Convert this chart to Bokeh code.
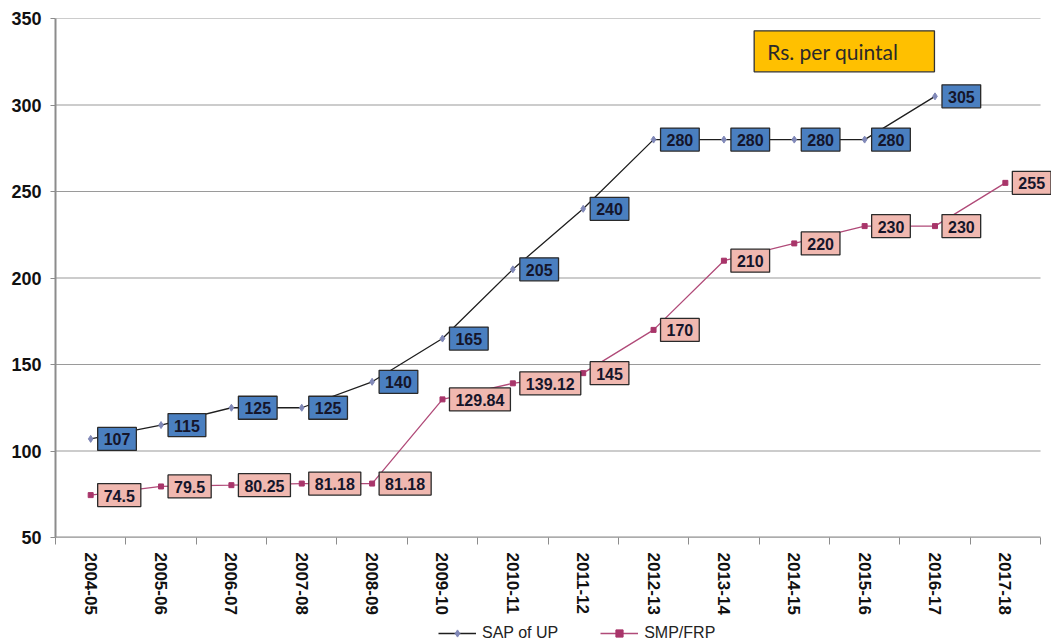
import math
from bokeh.plotting import figure
from bokeh.layouts import column
from bokeh.models import (ColumnDataSource, Label, FixedTicker,
                          Legend, LegendItem, Range1d)
from bokeh.embed import file_html
from bokeh.resources import INLINE

# Sugarcane prices, Rs. per quintal
seasons = ["2004-05", "2005-06", "2006-07", "2007-08", "2008-09", "2009-10",
           "2010-11", "2011-12", "2012-13", "2013-14", "2014-15", "2015-16",
           "2016-17", "2017-18"]
sap_up = [107, 115, 125, 125, 140, 165, 205, 240, 280, 280, 280, 280, 305]
smp_frp = [74.5, 79.5, 80.25, 81.18, 81.18, 129.84, 139.12, 145, 170, 210,
           220, 230, 230, 255]
y_ticks = [50, 100, 150, 200, 250, 300, 350]

n = len(seasons)
centers = [i + 0.5 for i in range(n)]

sap_src = ColumnDataSource(dict(x=centers[:len(sap_up)], y=sap_up))
smp_src = ColumnDataSource(dict(x=centers[:len(smp_frp)], y=smp_frp))

SAP_LINE = dict(line_color="#1e1e1e", line_width=1.3)
SAP_MARK = dict(marker="diamond", size=7, fill_color="#8088b8", line_color="#8088b8")
SMP_LINE = dict(line_color="#b04a78", line_width=1.3)
SMP_MARK = dict(marker="square", size=5, fill_color="#a8356a", line_color="#a8356a")

# the frame runs to the right edge so the last value box is not cut;
# grid and baseline are drawn only over the category span
p = figure(width=1051, height=620, output_backend="svg", toolbar_location=None,
           x_range=Range1d(0, 14.156), y_range=Range1d(50, 350),
           min_border_left=55, min_border_right=0, min_border_top=18,
           min_border_bottom=83)
p.outline_line_color = None
p.background_fill_color = "white"
p.border_fill_color = "white"

# y axis
p.yaxis.ticker = FixedTicker(ticks=y_ticks)
p.yaxis.major_label_text_font = "Arial"
p.yaxis.major_label_text_font_style = "bold"
p.yaxis.major_label_text_font_size = "18px"
p.yaxis.major_label_text_color = "#111111"
p.yaxis.axis_line_color = "#8c8c8c"
p.yaxis.axis_line_width = 2
p.yaxis.major_tick_line_color = "#8c8c8c"
p.yaxis.major_tick_out = 5
p.yaxis.major_tick_in = 0
p.yaxis.minor_tick_line_color = None
p.yaxis.major_label_standoff = 9

# x axis: labels at category centres, ticks on category boundaries
p.xaxis.ticker = FixedTicker(ticks=centers, minor_ticks=list(range(n + 1)))
p.xaxis.major_label_overrides = {c: s for c, s in zip(centers, seasons)}
p.xaxis.major_label_orientation = -math.pi / 2
p.xaxis.major_label_text_font = "Arial"
p.xaxis.major_label_text_font_style = "bold"
p.xaxis.major_label_text_font_size = "17px"
p.xaxis.major_label_text_color = "#111111"
p.xaxis.major_tick_line_color = None
p.xaxis.minor_tick_line_color = "#8c8c8c"
p.xaxis.minor_tick_out = 7
p.xaxis.minor_tick_in = 0
p.xaxis.axis_line_color = None
p.xaxis.major_label_standoff = 8

p.xgrid.grid_line_color = None
p.ygrid.grid_line_color = None

# horizontal grid lines and baseline over the categories
p.segment(x0=[0] * len(y_ticks), x1=[n] * len(y_ticks), y0=y_ticks, y1=y_ticks,
          line_color="#9a9a9a", line_width=1.2)
p.segment(x0=[0], x1=[n], y0=[y_ticks[0]], y1=[y_ticks[0]],
          line_color="#8c8c8c", line_width=2)

# series
p.line("x", "y", source=sap_src, **SAP_LINE)
p.scatter("x", "y", source=sap_src, **SAP_MARK)
p.line("x", "y", source=smp_src, **SMP_LINE)
p.scatter("x", "y", source=smp_src, **SMP_MARK)


# value labels in boxes, right of each point
def boxed_labels(xs, ys, fill):
    for x, y in zip(xs, ys):
        p.add_layout(Label(x=x, y=y, text=f"{y:g}", x_offset=7,
                           text_align="left", text_baseline="middle",
                           text_font="Arial", text_font_style="bold",
                           text_font_size="16px", text_color="#15152a",
                           background_fill_color=fill,
                           border_line_color="#2a2a2a", border_line_width=1.3,
                           padding=(6, 6, 6, 5)))


boxed_labels(centers, sap_up, "#4a7fc0")
boxed_labels(centers, smp_frp, "#f0b8b0")

# unit note
p.add_layout(Label(x=9.93, y=331, text="Rs. per quintal", text_align="left",
                   text_baseline="middle", text_font="Lato",
                   text_font_size="21px", text_color="#2a2a2a",
                   background_fill_color="#ffc000",
                   border_line_color="#333333", border_line_width=1.3,
                   padding=(13, 36, 8, 8)))

# legend strip under the chart; its key glyphs sit outside the visible range
lg = figure(width=1051, height=22, output_backend="svg", toolbar_location=None,
            x_range=Range1d(0, 1), y_range=Range1d(0, 1),
            x_axis_location=None, y_axis_location=None,
            min_border_left=55, min_border_right=0, min_border_top=0,
            min_border_bottom=0)
lg.outline_line_color = None
lg.xgrid.grid_line_color = None
lg.ygrid.grid_line_color = None
k_sap_l = lg.line(x=[-5, -4], y=[-5, -5], **SAP_LINE)
k_sap_m = lg.scatter(x=[-5], y=[-5], **SAP_MARK)
k_smp_l = lg.line(x=[-5, -4], y=[-5, -5], **SMP_LINE)
k_smp_m = lg.scatter(x=[-5], y=[-5], **SMP_MARK)

legend = Legend(items=[LegendItem(label="SAP of UP", renderers=[k_sap_l, k_sap_m]),
                       LegendItem(label="SMP/FRP", renderers=[k_smp_l, k_smp_m])],
                orientation="horizontal", location=(383, 0),
                label_text_font="Arial", label_text_font_size="16px",
                label_text_color="#222222", border_line_color=None,
                background_fill_alpha=0, glyph_width=38, glyph_height=18,
                label_height=18, spacing=42, padding=2, margin=0,
                label_standoff=6)
lg.add_layout(legend)

open("out.html", "w").write(file_html(column(p, lg, spacing=0), INLINE))
